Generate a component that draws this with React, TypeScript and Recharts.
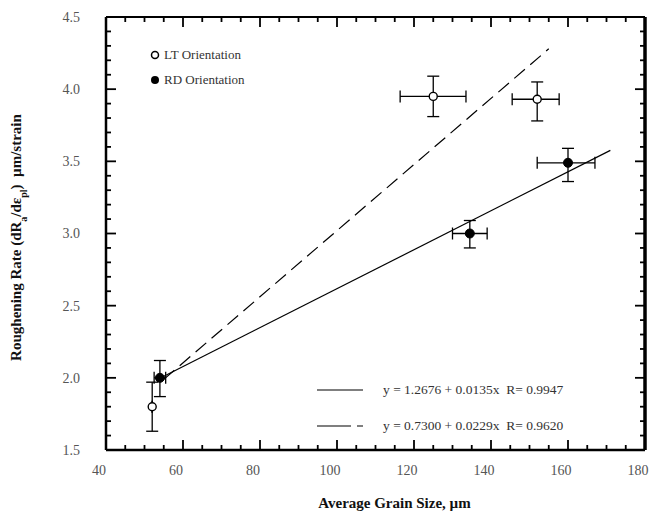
import React from 'react';
import { ScatterChart, Scatter, XAxis, YAxis, ErrorBar } from 'recharts';

// LT orientation (open circles)
const ltX = [52, 125, 152];
const ltY = [1.8, 3.95, 3.93];
const ltXErr = [[0, 0], [8.6, 8.5], [6.5, 5.7]];
const ltYErr = [[0.17, 0.17], [0.14, 0.14], [0.15, 0.12]];

// RD orientation (filled circles)
const rdX = [54, 134.5, 160];
const rdY = [2.0, 3.0, 3.49];
const rdXErr = [[1.5, 1.5], [4.5, 4.5], [8, 7]];
const rdYErr = [[0.13, 0.12], [0.1, 0.09], [0.13, 0.1]];

// linear fits y = a + b x
const fitRD = { a: 1.2676, b: 0.0135, from: 54, to: 171 };
const fitLT = { a: 0.73, b: 0.0229, from: 55, to: 155 };

const X_MIN = 40, X_MAX = 180, Y_MIN = 1.5, Y_MAX = 4.5;
const xMajor = [40, 60, 80, 100, 120, 140, 160, 180];
const yMajor = [1.5, 2.0, 2.5, 3.0, 3.5, 4.0, 4.5];

const xMinor: number[] = [];
for (let v = 45; v < 180; v += 5) if (!xMajor.includes(v)) xMinor.push(v);
const yMinor: number[] = [];
for (let i = 16; i < 45; i++) if (i % 5 !== 0) yMinor.push(i / 10);

const FONT = '"Liberation Serif", "Times New Roman", serif';

const toPoints = (xs: number[], ys: number[], xe: number[][], ye: number[][]) =>
    xs.map((x, i) => ({ x, y: ys[i], xErr: xe[i], yErr: ye[i] }));

const fitPoints = (f: { a: number; b: number; from: number; to: number }) =>
    [f.from, f.to].map(x => ({ x, y: f.a + f.b * x }));

const ltData = toPoints(ltX, ltY, ltXErr, ltYErr);
const rdData = toPoints(rdX, rdY, rdXErr, rdYErr);

// tick marks as points on the frame, placed by the axes' scales
const onBottom = (vs: number[]) => vs.map(x => ({ x, y: Y_MIN }));
const onTop = (vs: number[]) => vs.map(x => ({ x, y: Y_MAX }));
const onLeft = (vs: number[]) => vs.map(y => ({ x: X_MIN, y }));
const onRight = (vs: number[]) => vs.map(y => ({ x: X_MAX, y }));

const tickMark = (dx: number, dy: number) => (p: any) => (
    <line x1={p.cx} y1={p.cy} x2={p.cx + dx} y2={p.cy + dy} stroke="#000" strokeWidth={1.8} />
);
const MAJ = 10, MIN = 5;

const XTitle = (props: any) => {
    const { x, y, width } = props.viewBox;
    return (
        <text x={x + width / 2 + 19} y={y + 58} textAnchor="middle" fontSize={15} fontWeight="bold" fontFamily={FONT} fill="#111">
            Average Grain Size, µm
        </text>
    );
};

const YTitle = (props: any) => {
    const { y, height } = props.viewBox;
    const cx = 21;
    const cy = y + height / 2 + 4;
    return (
        <text x={cx} y={cy} transform={`rotate(-90 ${cx} ${cy})`} textAnchor="middle" fontSize={15} fontWeight="bold" fontFamily={FONT} fill="#111">
            <tspan>Roughening Rate (dR</tspan>
            <tspan baselineShift="sub" fontSize={10}>a</tspan>
            <tspan>/dε</tspan>
            <tspan baselineShift="sub" fontSize={10}>pl</tspan>
            <tspan>{')\u00A0\u00A0µm/strain'}</tspan>
        </text>
    );
};

const OpenDot = (p: any) => <circle cx={p.cx} cy={p.cy} r={4} fill="#fff" stroke="#000" strokeWidth={1.4} />;
const FilledDot = (p: any) => <circle cx={p.cx} cy={p.cy} r={4.5} fill="#000" stroke="#000" />;
const NoDot = () => <g />;

const legendText: React.CSSProperties = {
    position: 'absolute', fontFamily: FONT, color: '#333', whiteSpace: 'pre', lineHeight: '15px',
};

export default function App() {
    const tickSeries: [any[], (p: any) => React.ReactElement][] = [
        [onBottom(xMajor), tickMark(0, -MAJ)],
        [onBottom(xMinor), tickMark(0, -MIN)],
        [onTop(xMajor), tickMark(0, MAJ)],
        [onTop(xMinor), tickMark(0, MIN)],
        [onLeft(yMajor), tickMark(MAJ, 0)],
        [onLeft(yMinor), tickMark(MIN, 0)],
        [onRight(yMajor), tickMark(-MAJ, 0)],
        [onRight(yMinor), tickMark(-MIN, 0)],
    ];

    return (
        <div style={{ position: 'absolute', left: 0, top: 0, width: 652, height: 514, background: '#fff' }}>
            <ScatterChart width={652} height={514} margin={{ top: 16, right: 6, bottom: 0, left: 0 }}>
                <XAxis xAxisId={0} type="number" dataKey="x" domain={[X_MIN, X_MAX]} ticks={xMajor} interval={0} height={64}
                    tickSize={0} tickMargin={15} tickLine={false}
                    tick={{ fill: '#555', fontSize: 14, fontFamily: FONT, dx: -7 }}
                    axisLine={{ stroke: '#000', strokeWidth: 2.5 }} label={<XTitle />} />
                <XAxis xAxisId="top" orientation="top" type="number" domain={[X_MIN, X_MAX]} ticks={xMajor} height={1}
                    tickLine={false} tick={false} axisLine={{ stroke: '#000', strokeWidth: 2 }} />

                <YAxis yAxisId={0} type="number" dataKey="y" domain={[Y_MIN, Y_MAX]} ticks={yMajor} interval={0} width={106}
                    tickSize={0} tickMargin={26} tickLine={false}
                    tick={{ fill: '#555', fontSize: 14, fontFamily: FONT }}
                    tickFormatter={(v: number) => v.toFixed(1)}
                    axisLine={{ stroke: '#000', strokeWidth: 2.5 }} label={<YTitle />} />
                <YAxis yAxisId="right" orientation="right" type="number" domain={[Y_MIN, Y_MAX]} ticks={yMajor} width={1}
                    tickLine={false} tick={false} axisLine={{ stroke: '#000', strokeWidth: 3.5 }} />

                {tickSeries.map(([data, shape], i) => (
                    <Scatter key={`tick${i}`} data={data} shape={shape} isAnimationActive={false} />
                ))}

                <Scatter data={fitPoints(fitRD)} line={{ stroke: '#000', strokeWidth: 1.2 }} shape={<NoDot />} isAnimationActive={false} />
                <Scatter data={fitPoints(fitLT)} line={{ stroke: '#000', strokeWidth: 1.2, strokeDasharray: '14 7' }} shape={<NoDot />} isAnimationActive={false} />
                <Scatter data={rdData} shape={<FilledDot />} isAnimationActive={false}>
                    <ErrorBar dataKey="xErr" direction="x" width={6} stroke="#000" strokeWidth={1.3} isAnimationActive={false} />
                    <ErrorBar dataKey="yErr" direction="y" width={6} stroke="#000" strokeWidth={1.3} isAnimationActive={false} />
                </Scatter>
                <Scatter data={ltData} shape={<OpenDot />} isAnimationActive={false}>
                    <ErrorBar dataKey="xErr" direction="x" width={6} stroke="#000" strokeWidth={1.3} isAnimationActive={false} />
                    <ErrorBar dataKey="yErr" direction="y" width={6} stroke="#000" strokeWidth={1.3} isAnimationActive={false} />
                </Scatter>
            </ScatterChart>

            {/* series legend */}
            <svg width={12} height={12} style={{ position: 'absolute', left: 149, top: 49 }}>
                <circle cx={6} cy={6} r={3.5} fill="#fff" stroke="#000" strokeWidth={1.5} />
            </svg>
            <div style={{ ...legendText, left: 164, top: 47, fontSize: 13 }}>LT Orientation</div>
            <svg width={12} height={12} style={{ position: 'absolute', left: 149, top: 74 }}>
                <circle cx={6} cy={6} r={4} fill="#000" />
            </svg>
            <div style={{ ...legendText, left: 164, top: 72, fontSize: 13 }}>RD Orientation</div>

            {/* fit legend */}
            <svg width={46} height={4} style={{ position: 'absolute', left: 317, top: 388 }}>
                <line x1={0} x2={46} y1={2} y2={2} stroke="#000" strokeWidth={1.2} />
            </svg>
            <div style={{ ...legendText, left: 383, top: 382, fontSize: 13.5 }}>y = 1.2676 + 0.0135x  R= 0.9947</div>
            <svg width={46} height={4} style={{ position: 'absolute', left: 317, top: 424 }}>
                <line x1={0} x2={46} y1={2} y2={2} stroke="#000" strokeWidth={1.2} strokeDasharray="34 6 6" />
            </svg>
            <div style={{ ...legendText, left: 383, top: 418, fontSize: 13.5 }}>y = 0.7300 + 0.0229x  R= 0.9620</div>
        </div>
    );
}
